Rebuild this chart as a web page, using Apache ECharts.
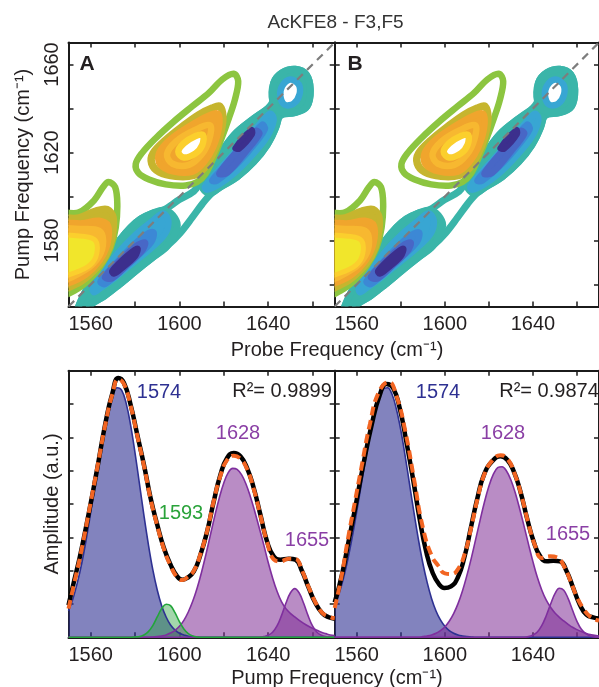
<!DOCTYPE html>
<html><head><meta charset="utf-8">
<script src="https://cdn.jsdelivr.net/npm/echarts@6/dist/echarts.min.js"></script>
<style>html,body{margin:0;padding:0;background:#fff}#c{width:599px;height:687px}</style>
</head><body><div id="c"></div>
<script>
// ---------------- DATA ----------------
const freqRange = [1550, 1670];
const xTickVals = [1560, 1580, 1600, 1620, 1640, 1660];
const xLabelVals = [1560, 1600, 1640];
const yTickVals = [1560, 1580, 1600, 1620, 1640, 1660];
const yLabelVals = [1580, 1620, 1660];
const diagonal = [1550, 1670];

// 2D contours [probe, pump]
const negOuterTeal = [[1553.5,1546],[1558.5,1558.4],[1563,1564.5],[1567.5,1572.2],[1572.8,1579.8],[1578,1585.9],[1582.5,1589.8],[1587.8,1592.4],[1593,1593.9],[1599.8,1598.5],[1606.5,1602.4],[1609.5,1606.6],[1613.3,1613.5],[1619.3,1621.1],[1625.3,1628.7],[1632.8,1634.9],[1638.8,1639.1],[1642.1,1643.3],[1642.5,1651.7],[1646.3,1656.3],[1652.3,1657.8],[1657.1,1655.5],[1659,1648.6],[1657.5,1641],[1652.3,1638.2],[1645.5,1636.7],[1643.3,1631],[1639.5,1623.4],[1633.5,1615.7],[1626,1608.9],[1618.5,1604.3],[1614,1600.9],[1610.3,1596.6],[1605.8,1590.5],[1600.5,1583.6],[1594.5,1577.5],[1587.8,1572.2],[1580.3,1566.1],[1572.8,1559.9],[1566,1554.6],[1560,1550.8],[1558,1546]];
const negN1Teal = [[1553.5,1546],[1558.5,1558.4],[1563,1564.5],[1567.5,1572.2],[1572.8,1579.8],[1578,1585.9],[1582.5,1589.8],[1587.8,1592.4],[1593,1593.9],[1597,1591.5],[1599,1586.5],[1594.5,1577.5],[1587.8,1572.2],[1580.3,1566.1],[1572.8,1559.9],[1566,1554.6],[1560,1550.8],[1558,1546]];
const negN2Teal = [[1609.5,1606.6],[1613.3,1613.5],[1619.3,1621.1],[1625.3,1628.7],[1632.8,1634.9],[1638.8,1639.1],[1641.5,1640.5],[1644.5,1637],[1643.3,1631],[1639.5,1623.4],[1633.5,1615.7],[1626,1608.9],[1618.5,1604.3],[1613,1601.5]];
const negN3Teal = [[1642.1,1643.3],[1642.5,1651.7],[1646.3,1656.3],[1652.3,1657.8],[1657.1,1655.5],[1659,1648.6],[1657.5,1641],[1652.3,1638.2],[1646,1638.5]];
const negN1L2 = [[1561,1558.5],[1566.5,1566.5],[1573,1575],[1580.5,1582.8],[1587.8,1588.8],[1592.6,1592.3],[1595,1589],[1593.5,1583],[1587.5,1576.8],[1580,1570.6],[1571.5,1563.6],[1564.5,1558.5],[1561.5,1556.5]];
const negN1L3 = [[1564.5,1561.5],[1571.3,1569.5],[1578.8,1577.3],[1584.8,1582.5],[1588.3,1583.6],[1587.3,1579.3],[1581.3,1573.2],[1572.8,1565.6],[1566.3,1560.2]];
const negN1L4 = [[1566.5,1563.5],[1573.5,1571.2],[1580.8,1577.6],[1584.5,1579],[1583,1575.2],[1576,1568.5],[1569.5,1562.8]];
const negN1L5 = [[1569.8,1566.2],[1576.5,1573],[1581,1576.3],[1580,1573],[1574,1567.5],[1570.5,1565]];
const negN2L2 = [[1611.5,1604.3],[1616.3,1610.4],[1623.8,1618.8],[1631.3,1627.2],[1638,1634.9],[1641,1637.6],[1642.5,1634.9],[1639.5,1627.2],[1632.8,1618.8],[1624.5,1610.4],[1617.8,1605.5],[1612.5,1603.1]];
const negN2L3 = [[1614.8,1607.3],[1622.3,1615.7],[1630.5,1624.9],[1637.3,1632.6],[1638.5,1630.6],[1632.8,1622.6],[1625.3,1614.2],[1617,1607.3]];
const negN2L4 = [[1618,1610.5],[1626.8,1621.5],[1634.5,1629.8],[1636,1628.5],[1630,1620.5],[1621.5,1610.8]];
const negN2L5 = [[1625,1622],[1632.5,1630.5],[1633,1628.3],[1627,1621.5]];
const negN3L2 = [[1646.3,1650.2],[1650,1653.2],[1653.8,1650.9],[1654.1,1646.3],[1651.5,1642.2],[1647.5,1641.7],[1645.5,1645.6]];
const posUpGreen = [[1624.5,1655.8],[1626.5,1652.4],[1625,1644],[1622.3,1635.6],[1619,1626.5],[1615.5,1618],[1611.8,1610.4],[1608,1606.6],[1602.8,1605],[1593.8,1605.5],[1586.3,1607.7],[1581.5,1610.7],[1580.3,1614.7],[1583,1619.6],[1589.3,1626.5],[1597.5,1634.1],[1605.8,1641],[1613.3,1647.1],[1619.3,1653.2]];
const posUpOlive = [[1618.2,1641],[1619.6,1635.6],[1618.1,1627.2],[1614.8,1618.8],[1611,1612.7],[1606.5,1609.6],[1598.3,1609.2],[1590.8,1611.2],[1587.5,1615],[1588.1,1619.6],[1593.8,1625.7],[1601.3,1631.8],[1608.8,1637.2],[1614.8,1640.2]];
const posUpOrange = [[1617.4,1637.6],[1617.8,1631.1],[1615.2,1622.4],[1611.1,1615.6],[1606,1611.3],[1597.6,1611.3],[1591.2,1614.7],[1590.9,1619.9],[1595.9,1625.9],[1604.3,1631.8],[1612.7,1636.5]];
const posUpLtOrange = [[1613.9,1632.3],[1613.4,1625.9],[1610.1,1619.2],[1604.3,1614.4],[1596.9,1614.9],[1594.4,1619.2],[1598.5,1625],[1606.8,1630.1]];
const posUpYellow = [[1610.6,1628],[1610.3,1623.4],[1607.3,1619.6],[1602,1617.7],[1599.5,1620.3],[1602,1624.2],[1607.3,1627.5]];
const posLeftGreen = [[1546,1591.3],[1554.8,1592.8],[1561.5,1598.2],[1565.6,1604.3],[1568,1606.6],[1571,1604.3],[1572,1596.6],[1571.3,1585.9],[1569,1576.8],[1564.5,1568.3],[1559.3,1562.2],[1553.3,1557.6],[1546,1555.4]];
const posLeftOlive = [[1546,1589],[1554.8,1590.5],[1562.3,1593.6],[1567.5,1594.3],[1570.3,1590.5],[1569.8,1581.3],[1566.8,1572.9],[1561.5,1566.1],[1554.8,1560.7],[1546,1558.4]];
const posLeftOrange = [[1546,1586.7],[1556.3,1587.8],[1563.8,1589],[1567.8,1586.7],[1567.5,1578.3],[1563.8,1570.6],[1557.8,1564.5],[1550.3,1560.7],[1546,1560.2]];
const posLeftLtOrange = [[1546,1584.1],[1556.3,1585.2],[1563.8,1584.4],[1565.6,1579.8],[1563.8,1572.9],[1557.8,1566.8],[1546,1562.7]];
const posLeftYellow = [[1546,1581.3],[1554.8,1582.1],[1561.5,1580.6],[1563,1576],[1560.8,1569.9],[1554.8,1566.1],[1546,1564.5]];

// 1D spectra: component grid
const compX = [1550,1552,1554,1556,1558,1560,1562,1564,1566,1568,1570,1572,1574,1576,1578,1580,1582,1584,1586,1588,1590,1592,1594,1596,1598,1600,1602,1604,1606,1608,1610,1612,1614,1616,1618,1620,1622,1624,1626,1628,1630,1632,1634,1636,1638,1640,1642,1644,1646,1648,1650,1652,1654,1656,1658,1660,1662,1664,1666,1668,1670];
const blueA = [0.79,1.16,1.64,2.23,2.94,3.74,4.59,5.44,6.22,6.85, 7.30,7.49,7.41,7.02,6.37,5.53,4.60,3.66,2.79,2.03, 1.42,0.95,0.61,0.37,0.22,0.12,0.07,0.03,0.02,0.01, 0,0,0,0,0,0,0,0,0,0, 0,0,0,0,0,0,0,0,0,0, 0,0,0,0,0,0,0,0,0,0, 0];
const greenA = [0,0,0,0,0,0,0,0,0,0, 0,0,0,0,0,0.01,0.02,0.07,0.17,0.35, 0.61,0.86,0.99,0.95,0.74,0.47,0.25,0.11,0.04,0.01, 0,0,0,0,0,0,0,0,0,0, 0,0,0,0,0,0,0,0,0,0, 0,0,0,0,0,0,0,0,0,0, 0];
const purple1628A = [0,0,0,0,0,0,0,0,0,0, 0,0,0,0,0,0,0,0,0,0.01, 0.02,0.04,0.07,0.13,0.21,0.33,0.51,0.76,1.08,1.48, 1.96,2.50,3.08,3.66,4.19,4.63,4.94,5.07,5.04,4.88, 4.60,4.22,3.77,3.28,2.78,2.25,1.78,1.38,1.07,0.86, 0.72,0.61,0.51,0.42,0.34,0.27,0.21,0.15,0.11,0.07, 0.05];
const purple1655A = [0,0,0,0,0,0,0,0,0,0, 0,0,0,0,0,0,0,0,0,0, 0,0,0,0,0,0,0,0,0,0, 0,0,0,0,0,0,0,0,0,0, 0,0,0,0,0.02,0.06,0.15,0.34,0.65,1.02, 1.33,1.46,1.33,1.02,0.65,0.34,0.15,0.06,0.02,0.01, 0];
const blueB = [0.93,1.31,1.78,2.35,3.02,3.77,4.55,5.33,6.07,6.69, 7.16,7.44,7.49,7.30,6.85,6.22,5.44,4.59,3.74,2.94, 2.23,1.64,1.16,0.79,0.52,0.33,0.20,0.12,0.07,0.04, 0.02,0.01,0,0,0,0,0,0,0,0, 0,0,0,0,0,0,0,0,0,0, 0,0,0,0,0,0,0,0,0,0, 0];
const purple1628B = [0,0,0,0,0,0,0,0,0,0, 0,0,0,0,0,0,0,0,0,0, 0.02,0.04,0.07,0.12,0.20,0.31,0.48,0.71,1.01,1.39, 1.85,2.37,2.94,3.51,4.06,4.53,4.89,5.09,5.12,4.99, 4.72,4.33,3.85,3.33,2.79,2.27,1.80,1.42,1.12,0.90, 0.73,0.60,0.49,0.39,0.30,0.23,0.17,0.12,0.08,0.06, 0.04];
const purple1655B = [0,0,0,0,0,0,0,0,0,0, 0,0,0,0,0,0,0,0,0,0, 0,0,0,0,0,0,0,0,0,0, 0,0,0,0,0,0,0,0,0,0, 0,0,0,0,0.02,0.07,0.16,0.35,0.64,0.99, 1.31,1.47,1.41,1.16,0.81,0.48,0.24,0.11,0.04,0.01, 0];

// fit (black) and data (orange dashed)
const fitAx = [1550,1552.5,1555.5,1559.3,1563,1566.8,1569.8,1572.5,1575,1578,1581,1584,1587,1590,1593,1596,1599,1601.3,1603.5,1606.5,1609.5,1612.5,1615.5,1618.5,1621.5,1624.5,1627.5,1630.5,1633.5,1636.5,1639.5,1642.5,1645.5,1649.3,1652.3,1655.3,1658.3,1661.3,1664.3,1667.3,1670];
const fitAy = [0.96,1.68,2.53,3.78,5.08,6.48,7.33,7.78,7.63,6.98,6.08,5.18,4.18,3.38,2.68,2.18,1.83,1.73,1.78,1.98,2.48,3.18,4.08,4.88,5.38,5.53,5.43,5.08,4.48,3.68,2.88,2.43,2.33,2.36,2.33,1.98,1.48,1.03,0.73,0.60,0.56];
const dataAx = fitAx;
const dataAy = [0.86,1.60,2.50,3.80,5.10,6.45,7.30,7.74,7.60,6.95,6.05,5.15,4.15,3.35,2.65,2.15,1.80,1.72,1.80,2.00,2.50,3.20,4.10,4.85,5.32,5.45,5.36,5.05,4.45,3.66,2.86,2.34,2.28,2.36,2.35,2.00,1.50,1.05,0.74,0.62,0.57];
const fitBx = [1550,1553.3,1556.3,1559.3,1563,1566.8,1570.5,1573.5,1576.5,1579.5,1582.5,1585.5,1588.5,1591.5,1594.5,1597.5,1599.8,1602.8,1605.8,1608.8,1611.8,1614.8,1617.8,1621.5,1625.3,1628.3,1631.3,1634.3,1637.3,1640.3,1643.3,1646.3,1649.3,1652.3,1655.3,1658.3,1661.3,1664.3,1667.3,1670];
const fitBy = [1.05,1.88,2.88,3.88,5.18,6.38,7.28,7.60,7.48,6.88,5.88,4.78,3.58,2.58,1.93,1.58,1.48,1.53,1.78,2.38,3.28,4.18,4.88,5.28,5.43,5.33,4.98,4.38,3.58,2.88,2.43,2.28,2.30,2.28,1.98,1.48,0.98,0.68,0.60,0.56];
const dataBx = [1550,1553,1556,1559,1562,1566,1570,1574.6,1578,1582,1586,1590,1594,1597,1600,1603,1606,1609,1612,1615,1618,1621.5,1625.3,1628.5,1632,1635,1638,1641,1644,1647.8,1651,1654,1657,1660,1663,1666,1670];
const dataBy = [0.88,1.80,2.95,4.00,5.05,6.40,7.35,7.66,7.25,6.20,4.75,3.30,2.45,2.15,1.92,1.90,2.05,2.50,3.30,4.20,4.90,5.30,5.46,5.35,4.85,4.20,3.40,2.75,2.38,2.43,2.40,2.15,1.70,1.20,0.85,0.62,0.50];

// ---------------- STYLE ----------------
const FONT = "'Liberation Sans', Arial, Helvetica, sans-serif";
const INK = '#231f20';
const C = {teal:'#3ab5a9', l2:'#38a6d3', l3:'#3c88d5', l4:'#4867c6', l5:'#3c2f8d',
  green:'#8cc540', olive:'#c6b52e', orange:'#f0a52d', ltorange:'#f7b830', yellow:'#fbcf2d', lemon:'#f1e62b'};
const LW = 6.5;
const contourDefs = [
  {pts:negOuterTeal, stroke:C.teal, fill:null, w:7},
  {pts:negN1Teal, stroke:C.teal, fill:C.teal, w:7},
  {pts:negN2Teal, stroke:C.teal, fill:C.teal, w:7},
  {pts:negN3Teal, stroke:C.teal, fill:C.teal, w:7},
  {pts:negN1L2, stroke:C.l2, fill:C.l2, w:LW},
  {pts:negN1L3, stroke:C.l3, fill:C.l3, w:LW},
  {pts:negN1L4, stroke:C.l4, fill:C.l4, w:LW},
  {pts:negN1L5, stroke:C.l5, fill:C.l5, w:LW},
  {pts:negN2L2, stroke:C.l2, fill:C.l2, w:LW},
  {pts:negN2L3, stroke:C.l3, fill:C.l3, w:LW},
  {pts:negN2L4, stroke:C.l4, fill:C.l4, w:LW},
  {pts:negN2L5, stroke:C.l5, fill:C.l5, w:5},
  {pts:negN3L2, stroke:C.l2, fill:'#ffffff', w:LW},
  {pts:posUpGreen, stroke:C.green, fill:null, w:LW},
  {pts:posUpOlive, stroke:C.olive, fill:null, w:7.5},
  {pts:posUpOrange, stroke:C.orange, fill:C.orange, w:LW},
  {pts:posUpLtOrange, stroke:C.ltorange, fill:null, w:LW},
  {pts:posUpYellow, stroke:C.yellow, fill:'#ffffff', w:LW},
  {pts:posLeftGreen, stroke:C.green, fill:null, w:LW},
  {pts:posLeftOlive, stroke:C.olive, fill:C.olive, w:LW},
  {pts:posLeftOrange, stroke:C.orange, fill:C.orange, w:LW},
  {pts:posLeftLtOrange, stroke:C.ltorange, fill:C.ltorange, w:LW},
  {pts:posLeftYellow, stroke:C.yellow, fill:C.lemon, w:5}
];

const grids = [
  {left:68.5, top:42.5, width:266.2, height:264},
  {left:334.7, top:42.5, width:266.2, height:264},
  {left:68.5, top:370.7, width:266.2, height:266.6},
  {left:334.7, top:370.7, width:266.2, height:266.6}
];

const axisLineStyle = {color:'#1b1b1b', width:2};
const tickStyle = {color:'#1b1b1b', width:1.5};
const labelStyle = {fontSize:20, color:INK, fontFamily:FONT, formatter: v => String(v)};

const xAxes = [], yAxes = [];
grids.forEach((g, gi) => {
  const base = {gridIndex:gi, type:'value', min:freqRange[0], max:freqRange[1], splitLine:{show:false},
    axisLine:{show:true, onZero:false, lineStyle:axisLineStyle},
    axisTick:{show:true, inside:true, length:5, customValues:xTickVals, lineStyle:tickStyle}};
  xAxes.push(Object.assign({}, base, {position:'bottom',
    axisLabel:Object.assign({show:true, customValues:xLabelVals, margin:8}, labelStyle)}));
  xAxes.push(Object.assign({}, base, {position:'top', axisLabel:{show:false}}));
  const isTop = gi < 2;
  let ybase;
  if (isTop) {
    ybase = {gridIndex:gi, type:'value', min:freqRange[0], max:freqRange[1], splitLine:{show:false},
      axisLine:{show:true, onZero:false, lineStyle:axisLineStyle},
      axisTick:{show:true, inside:true, length:5, customValues:yTickVals, lineStyle:tickStyle}};
  } else {
    ybase = {gridIndex:gi, type:'value', min:0, max:8, interval:1, splitLine:{show:false},
      axisLine:{show:true, onZero:false, lineStyle:axisLineStyle},
      axisTick:{show:true, inside:true, length:5, lineStyle:tickStyle}};
  }
  const left = Object.assign({}, ybase, {position:'left', axisLabel:{show:false}});
  if (gi === 0) {
    left.axisLabel = Object.assign({show:true, customValues:yLabelVals, rotate:90, margin:6}, labelStyle);
    left.name = 'Pump Frequency (cm⁻¹)';
    left.nameLocation = 'middle';
    left.nameGap = 35;
    left.nameTextStyle = {fontSize:20, color:INK, fontFamily:FONT};
  }
  if (gi === 2) {
    left.name = 'Amplitude (a.u.)';
    left.nameLocation = 'middle';
    left.nameGap = 6;
    left.nameTextStyle = {fontSize:20, color:INK, fontFamily:FONT};
  }
  yAxes.push(left);
  yAxes.push(Object.assign({}, ybase, {position:'right', axisLabel:{show:false}}));
});

function contourSeries(gi) {
  return {
    type:'custom', coordinateSystem:'cartesian2d', xAxisIndex:2*gi, yAxisIndex:2*gi,
    silent:true, clip:true, z:2,
    data: contourDefs.map((d, i) => [1600, 1600, i]),
    renderItem: function (params, api) {
      const d = contourDefs[api.value(2)];
      const pts = d.pts.map(p => api.coord(p));
      const cs = params.coordSys;
      return {
        type:'polygon',
        shape:{points:pts, smooth:0.35},
        style:{fill:d.fill || 'none', stroke:d.stroke, lineWidth:d.w, lineJoin:'round'},
        clipPath:{type:'rect', shape:{x:cs.x, y:cs.y, width:cs.width, height:cs.height}}
      };
    }
  };
}
function diagSeries(gi) {
  return {type:'line', xAxisIndex:2*gi, yAxisIndex:2*gi, silent:true, z:5, symbol:'none',
    data:[[diagonal[0], diagonal[0]], [diagonal[1], diagonal[1]]],
    lineStyle:{color:'#7d7d7d', width:2.2, type:[8,6]}};
}
const zip = (xs, ys) => xs.map((x, i) => [x, ys[i]]);
function comp(gi, ys, line, area) {
  return {type:'line', xAxisIndex:2*gi, yAxisIndex:2*gi, silent:true, smooth:0.4, symbol:'none',
    data:zip(compX, ys), lineStyle:{color:line, width:1.6}, areaStyle:{color:area, opacity:1}};
}
function curve(gi, xs, ys, color, width, type) {
  return {type:'line', xAxisIndex:2*gi, yAxisIndex:2*gi, silent:true, smooth:0.5, symbol:'none',
    data:zip(xs, ys), lineStyle:{color:color, width:width, type:type, cap:'butt'}, z:4};
}
const BLUE_L = '#2e3192', BLUE_A = 'rgba(46,49,146,0.6)';
const PUR_L = '#7f2f9e', PUR_A = 'rgba(128,45,150,0.55)';
const GRN_L = '#22a53a', GRN_A = 'rgba(50,165,70,0.45)';

const series = [
  contourSeries(0), diagSeries(0),
  contourSeries(1), diagSeries(1),
  comp(2, blueA, BLUE_L, BLUE_A),
  comp(2, purple1628A, PUR_L, PUR_A),
  comp(2, purple1655A, PUR_L, PUR_A),
  comp(2, greenA, GRN_L, GRN_A),
  curve(2, fitAx, fitAy, '#000', 4.5, 'solid'),
  curve(2, dataAx, dataAy, '#f26522', 4, [9,5]),
  comp(3, blueB, BLUE_L, BLUE_A),
  comp(3, purple1628B, PUR_L, PUR_A),
  comp(3, purple1655B, PUR_L, PUR_A),
  curve(3, fitBx, fitBy, '#000', 4.5, 'solid'),
  curve(3, dataBx, dataBy, '#f26522', 4, [9,5])
];

function txt(x, y, text, color, size, weight) {
  return {type:'text', x:x, y:y, silent:true, z:100,
    style:{text:text, fill:color, font:(weight||'normal') + ' ' + size + 'px ' + FONT,
      textAlign:'center', textVerticalAlign:'middle'}};
}
const PUR_T = '#8a3fa5', BLUE_T = '#2e3192', GRN_T = '#2aa33a';
const graphics = [
  txt(335.5, 22.5, 'AcKFE8 - F3,F5', '#333', 19),
  txt(337, 350, 'Probe Frequency (cm⁻¹)', INK, 20),
  txt(337, 678, 'Pump Frequency (cm⁻¹)', INK, 20),
  txt(87, 64.5, 'A', INK, 21, 'bold'),
  txt(355, 64.5, 'B', INK, 21, 'bold'),
  txt(159, 392, '1574', BLUE_T, 20),
  txt(282, 391, 'R²= 0.9899', INK, 20),
  txt(238, 433, '1628', PUR_T, 20),
  txt(181, 513, '1593', GRN_T, 20),
  txt(307, 540, '1655', PUR_T, 20),
  txt(438, 392, '1574', BLUE_T, 20),
  txt(549, 391, 'R²= 0.9874', INK, 20),
  txt(503, 433, '1628', PUR_T, 20),
  txt(568, 534, '1655', PUR_T, 20)
];

const chart = echarts.init(document.getElementById('c'), null, {renderer:'canvas'});
chart.setOption({
  animation:false,
  backgroundColor:'#ffffff',
  grid:grids,
  xAxis:xAxes,
  yAxis:yAxes,
  series:series,
  graphic:{elements:graphics}
});
</script></body></html>
